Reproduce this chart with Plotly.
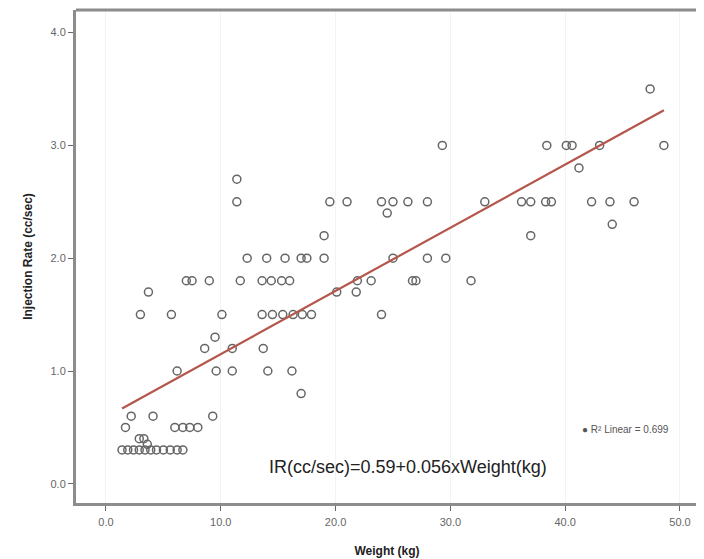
import plotly.graph_objects as go

# Data
weight_kg = [
    47.4,
    29.3, 38.4, 40.1, 40.6, 43.0, 48.6,
    41.2,
    11.4,
    11.4, 19.5, 21.0, 24.0, 25.0, 26.3, 28.0, 33.0, 36.2, 37.0, 38.3, 38.8, 42.3, 43.9, 46.0,
    24.5,
    44.1,
    19.0, 37.0,
    12.3, 14.0, 15.6, 17.0, 17.5, 19.0, 25.0, 28.0, 29.6,
    7.0, 7.5, 9.0, 11.7, 13.6, 14.4, 15.3, 16.0, 21.9, 23.1, 26.7, 27.0, 31.8,
    3.7, 20.1, 21.8,
    3.0, 5.7, 10.1, 13.6, 14.5, 15.4, 16.3, 17.1, 17.9, 24.0,
    9.5,
    8.6, 11.0, 13.7,
    6.2, 9.6, 11.0, 14.1, 16.2,
    17.0,
    2.2, 4.1, 9.3,
    1.7, 6.0, 6.7, 7.3, 8.0,
    2.9, 3.3, 3.6,
    1.4, 1.9, 2.4, 2.9, 3.4, 3.9, 4.4, 5.0, 5.6, 6.2, 6.7,
]
injection_rate = [
    3.5,
    3.0, 3.0, 3.0, 3.0, 3.0, 3.0,
    2.8,
    2.7,
    2.5, 2.5, 2.5, 2.5, 2.5, 2.5, 2.5, 2.5, 2.5, 2.5, 2.5, 2.5, 2.5, 2.5, 2.5,
    2.4,
    2.3,
    2.2, 2.2,
    2.0, 2.0, 2.0, 2.0, 2.0, 2.0, 2.0, 2.0, 2.0,
    1.8, 1.8, 1.8, 1.8, 1.8, 1.8, 1.8, 1.8, 1.8, 1.8, 1.8, 1.8, 1.8,
    1.7, 1.7, 1.7,
    1.5, 1.5, 1.5, 1.5, 1.5, 1.5, 1.5, 1.5, 1.5, 1.5,
    1.3,
    1.2, 1.2, 1.2,
    1.0, 1.0, 1.0, 1.0, 1.0,
    0.8,
    0.6, 0.6, 0.6,
    0.5, 0.5, 0.5, 0.5, 0.5,
    0.4, 0.4, 0.35,
    0.3, 0.3, 0.3, 0.3, 0.3, 0.3, 0.3, 0.3, 0.3, 0.3, 0.3,
]
fit_intercept = 0.59
fit_slope = 0.056
r2_label = "R² Linear = 0.699"
equation_label = "IR(cc/sec)=0.59+0.056xWeight(kg)"
x_ticks = [0, 10, 20, 30, 40, 50]
y_ticks = [0, 1, 2, 3, 4]

fit_x = [min(weight_kg), max(weight_kg)]
fit_y = [fit_intercept + fit_slope * w for w in fit_x]

fig = go.Figure()
fig.add_trace(go.Scatter(
    x=weight_kg, y=injection_rate, mode="markers",
    marker=dict(symbol="circle-open", size=8, color="#666666", line=dict(width=1.5)),
    showlegend=False, hoverinfo="x+y",
))
fig.add_trace(go.Scatter(
    x=fit_x, y=fit_y, mode="lines",
    line=dict(color="#b5564c", width=2.2),
    showlegend=False,
))

fig.add_annotation(x=0.534, y=0.049, xref="paper", yref="paper", text=equation_label,
                   showarrow=False, font=dict(family="Liberation Sans", size=18, color="#222222"))
fig.add_annotation(x=0.81, y=0.134, xref="paper", yref="paper", xanchor="left",
                   text="● " + r2_label, showarrow=False,
                   font=dict(family="Liberation Sans", size=10, color="#555555"))

# top and right frame
fig.add_shape(type="line", xref="paper", yref="paper", x0=0, x1=1, y0=1, y1=1,
              line=dict(color="#8c8c8c", width=3))
fig.add_shape(type="line", xref="paper", yref="paper", x0=1, x1=1, y0=0, y1=1,
              line=dict(color="#e6e6e6", width=1.5))

fig.update_layout(
    width=704, height=559,
    margin=dict(l=68, r=14, t=2, b=64),
    paper_bgcolor="white", plot_bgcolor="white",
    font=dict(family="Liberation Sans", color="#444444"),
    xaxis=dict(
        range=[-2.61, 51.57], tickvals=x_ticks, tickformat=".1f",
        showgrid=True, gridcolor="#f3f3f3",
        zeroline=False, showline=True, linecolor="#8c8c8c", linewidth=3,
        ticks="outside", ticklen=5, tickcolor="#666666",
        tickfont=dict(size=11, color="#666666"), ticklabelstandoff=2,
        title=dict(text="<b>Weight (kg)</b>", font=dict(size=12, color="#222222"), standoff=20),
    ),
    yaxis=dict(
        range=[-0.17, 4.2], tickvals=y_ticks, tickformat=".1f",
        showgrid=False,
        zeroline=False, showline=True, linecolor="#8c8c8c", linewidth=3,
        ticks="outside", ticklen=5, tickcolor="#666666",
        tickfont=dict(size=11, color="#666666"),
        title=dict(text="<b>Injection Rate (cc/sec)</b>", font=dict(size=12, color="#222222"), standoff=16),
    ),
)

fig.write_html("out.html")
